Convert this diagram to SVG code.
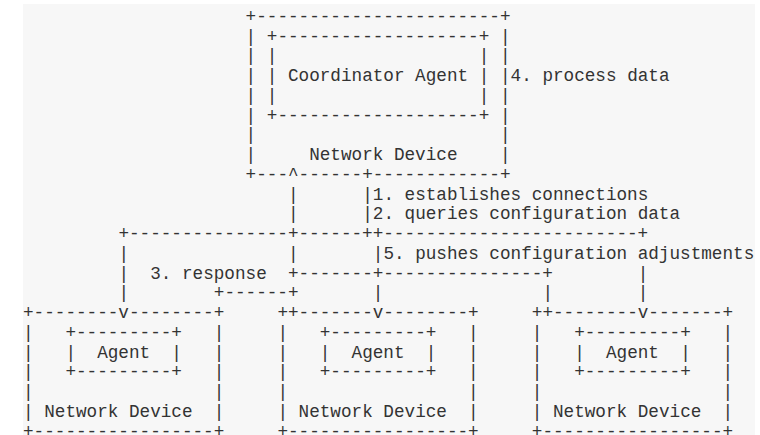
<svg xmlns="http://www.w3.org/2000/svg" width="760" height="435" viewBox="0 0 760 435" xml:space="preserve">
<style>
text { font-family: "Liberation Mono", "DejaVu Sans Mono", monospace; font-size: 17.67px; fill: #333333; white-space: pre; }
</style>
<rect x="23" y="4" width="732" height="431" fill="#f7f7f7"/>
<g id="coordinator">
<text x="245.6" y="21.7">+-----------------------+</text>
<text x="245.6" y="41.5">| +-------------------+ |</text>
<text x="245.6" y="61.2">| |                   | |</text>
<text x="245.6" y="81.0">| | Coordinator Agent | |</text>
<text x="245.6" y="100.8">| |                   | |</text>
<text x="245.6" y="120.5">| +-------------------+ |</text>
<text x="245.6" y="140.3">|                       |</text>
<text x="245.6" y="160.0">|     Network Device    |</text>
<text x="245.6" y="179.8">+---^------+------------+</text>
</g>
<g id="connectors">
<text x="510.6" y="81.0">4. process data</text>
<text x="288.0" y="199.6">|</text>
<text x="362.2" y="199.6">|1. establishes connections</text>
<text x="288.0" y="219.4">|</text>
<text x="362.2" y="219.4">|2. queries configuration data</text>
<text x="118.4" y="239.1">+---------------+------++------------------------+</text>
<text x="118.4" y="258.9">|</text>
<text x="288.0" y="258.9">|</text>
<text x="372.8" y="258.9">|5. pushes configuration adjustments</text>
<text x="118.4" y="278.6">|</text>
<text x="150.2" y="278.6">3. response</text>
<text x="288.0" y="278.6">+-------+---------------+</text>
<text x="637.8" y="278.6">|</text>
<text x="118.4" y="298.4">|</text>
<text x="213.8" y="298.4">+------+</text>
<text x="372.8" y="298.4">|</text>
<text x="542.4" y="298.4">|</text>
<text x="637.8" y="298.4">|</text>
</g>
<g id="agent-1">
<text x="23" y="318.2">+--------v--------+</text>
<text x="23" y="337.9">|   +---------+   |</text>
<text x="23" y="357.7">|   |  Agent  |   |</text>
<text x="23" y="377.4">|   +---------+   |</text>
<text x="23" y="397.2">|                 |</text>
<text x="23" y="417.0">| Network Device  |</text>
<text x="23" y="436.7">+-----------------+</text>
</g>
<g id="agent-2">
<text x="277.4" y="318.2">++-------v--------+</text>
<text x="277.4" y="337.9">|   +---------+   |</text>
<text x="277.4" y="357.7">|   |  Agent  |   |</text>
<text x="277.4" y="377.4">|   +---------+   |</text>
<text x="277.4" y="397.2">|                 |</text>
<text x="277.4" y="417.0">| Network Device  |</text>
<text x="277.4" y="436.7">+-----------------+</text>
</g>
<g id="agent-3">
<text x="531.8" y="318.2">++--------v-------+</text>
<text x="531.8" y="337.9">|   +---------+   |</text>
<text x="531.8" y="357.7">|   |  Agent  |   |</text>
<text x="531.8" y="377.4">|   +---------+   |</text>
<text x="531.8" y="397.2">|                 |</text>
<text x="531.8" y="417.0">| Network Device  |</text>
<text x="531.8" y="436.7">+-----------------+</text>
</g>
</svg>
